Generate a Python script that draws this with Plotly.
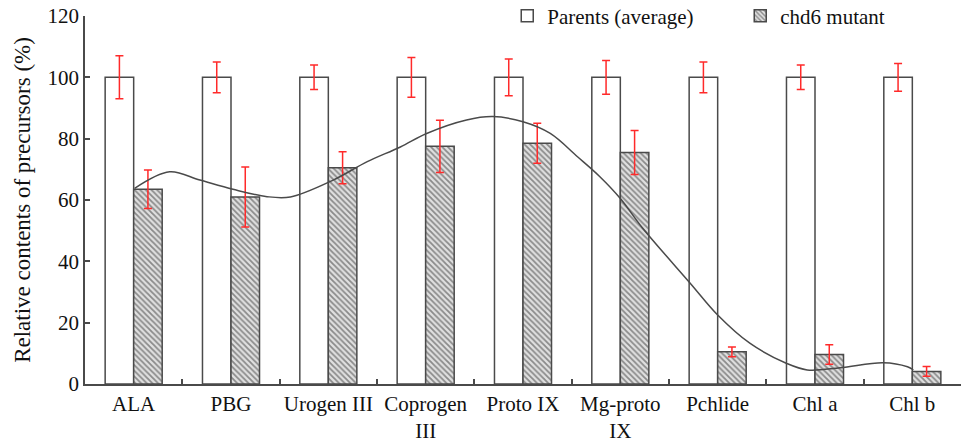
import plotly.graph_objects as go

categories = ["ALA", "PBG", "Urogen III", "Coprogen<br>III", "Proto IX",
              "Mg-proto<br>IX", "Pchlide", "Chl a", "Chl b"]
parents = [100, 100, 100, 100, 100, 100, 100, 100, 100]
parents_err = [7, 5, 4, 6.5, 6, 5.5, 5, 4, 4.5]
mutant = [63.5, 61, 70.5, 77.5, 78.5, 75.5, 10.5, 9.6, 4.1]
mutant_err = [6.3, 9.8, 5.2, 8.5, 6.5, 7.2, 1.6, 3.2, 1.6]

curve_x = [0.01, 0.37, 0.68, 1.02, 1.37, 1.61, 2.05, 2.40, 2.74, 3.01, 3.42, 3.69,
           4.0, 4.28, 4.56, 4.79, 5.0, 5.23, 5.72, 6.0, 6.33, 6.71, 6.92, 7.26,
           7.70, 7.95, 8.01]
curve_y = [63.8, 69.2, 66.5, 63.5, 61.1, 61.0, 66.5, 72.5, 77.3, 81.7, 86.1, 87.2,
           85.5, 81.7, 74.1, 67.6, 60.5, 50.8, 32.8, 22.5, 13.3, 6.7, 4.6, 5.3,
           6.9, 5.6, 4.6]

xpos = list(range(len(categories)))
FONT = "Liberation Serif"
DARK = "#4a4a4a"
RED = "#ff2a2a"
W = 0.293

fig = go.Figure()
fig.add_trace(go.Bar(
    x=xpos, y=parents, width=W, offset=-W, name="Parents (average)",
    marker=dict(color="white", line=dict(color=DARK, width=1.5)),
    error_y=dict(type="data", array=parents_err, color=RED, thickness=1.5, width=4),
))
fig.add_trace(go.Bar(
    x=xpos, y=mutant, width=W, offset=0, name="chd6 mutant",
    marker=dict(color="#e0e0e0", line=dict(color=DARK, width=1.5),
                pattern=dict(shape="\\", fgcolor="#333333", bgcolor="#e0e0e0",
                             size=4, solidity=0.45)),
    error_y=dict(type="data", array=mutant_err, color=RED, thickness=1.5, width=4),
))
fig.add_trace(go.Scatter(
    x=curve_x, y=curve_y, mode="lines", line=dict(color=DARK, width=1.5, shape="spline", smoothing=1.0),
    showlegend=False, hoverinfo="skip",
))

fig.update_layout(
    width=964, height=442,
    margin=dict(l=85, r=3, t=16, b=58, autoexpand=False),
    barmode="overlay",
    plot_bgcolor="white", paper_bgcolor="white",
    font=dict(family=FONT, size=21, color="#111"),
    showlegend=True,
    legend=dict(orientation="h", x=0.482, y=1.0, xanchor="left", yanchor="middle",
                font=dict(family=FONT, size=21), bgcolor="rgba(0,0,0,0)",
                entrywidth=188, traceorder="normal"),
    xaxis=dict(
        range=[-0.5, 8.5], tickvals=xpos, ticktext=categories, ticks="",
        showline=True, linecolor=DARK, linewidth=1.5, showgrid=False, zeroline=False,
        tickfont=dict(family=FONT, size=21),
        minor=dict(tickvals=[0.5, 1.5, 2.5, 3.5, 4.5, 5.5, 6.5, 7.5], ticks="inside",
                   ticklen=5, tickcolor=DARK, tickwidth=1.5, showgrid=False),
    ),
    yaxis=dict(
        range=[0, 120], tickvals=[0, 20, 40, 60, 80, 100, 120], ticks="inside", ticklen=5,
        tickcolor=DARK, tickwidth=1.5,
        showline=True, linecolor=DARK, linewidth=1.5, showgrid=False, zeroline=False,
        tickfont=dict(family=FONT, size=21),
        title=dict(text="Relative contents of precursors (%)", font=dict(family=FONT, size=23), standoff=10),
    ),
)

fig.write_html("out.html")
